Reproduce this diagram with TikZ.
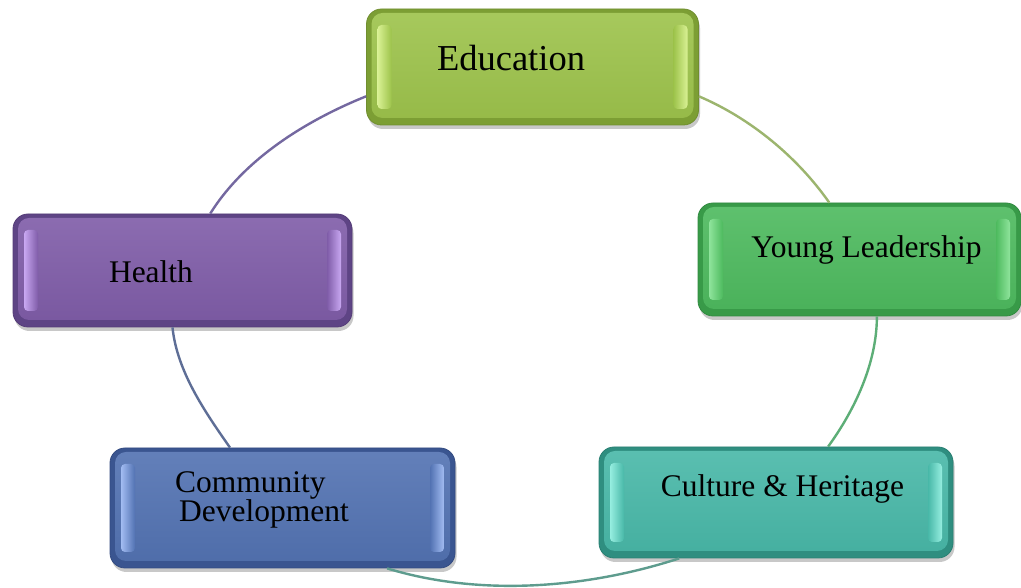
\documentclass[tikz,border=0pt]{standalone}
\usepackage{fontspec}
\setmainfont{Liberation Serif}
\usetikzlibrary{shadows,calc}
\definecolor{eduM}{HTML}{9DC34B}\definecolor{eduD}{HTML}{7C9E34}\definecolor{eduL}{HTML}{D9F194}
\definecolor{ylM}{HTML}{4DBA5E}\definecolor{ylD}{HTML}{389A48}\definecolor{ylL}{HTML}{8FE49C}
\definecolor{heM}{HTML}{7F5CA8}\definecolor{heD}{HTML}{5E4485}\definecolor{heL}{HTML}{C9A8F2}
\definecolor{coM}{HTML}{5272B2}\definecolor{coD}{HTML}{3A5590}\definecolor{coL}{HTML}{A2BCF2}
\definecolor{cuM}{HTML}{48B8A8}\definecolor{cuD}{HTML}{2F8E80}\definecolor{cuL}{HTML}{96EEE0}
\definecolor{arcA}{HTML}{7468A0}\definecolor{arcB}{HTML}{9CB56E}\definecolor{arcC}{HTML}{5DAE77}
\definecolor{arcD}{HTML}{5E9C8E}\definecolor{arcE}{HTML}{5E6E96}
\begin{document}
\begin{tikzpicture}[x=1pt,y=1pt,
  tile/.style n args={3}{
    draw=#2!90!black, line width=0.8pt, rounded corners=15pt,
    inner sep=0pt, fill=#2,
    drop shadow={shadow xshift=1.5pt, shadow yshift=-4pt, opacity=0.3, fill=black!70},
    path picture={
      \shade[rounded corners=11pt, top color=#1!90!white, bottom color=#1!95!black]
        ($(path picture bounding box.south west)+(5,7)$) rectangle ($(path picture bounding box.north east)+(-5,-4)$);
      \shade[rounded corners=4pt, left color=#3, right color=#1]
        ($(path picture bounding box.south west)+(11,16)$) rectangle ($(path picture bounding box.north west)+(25,-16)$);
      \shade[rounded corners=4pt, left color=#1, right color=#3]
        ($(path picture bounding box.south east)+(-25,16)$) rectangle ($(path picture bounding box.north east)+(-11,-16)$);
    }
  },
  lbl/.style={font=\fontsize{31.5}{27}\selectfont, inner sep=0pt, text=black},
  conn/.style={line width=2.4pt, looseness=0.85}
]
\fill[white] (0,0) rectangle (1021,588);
\useasboundingbox (0,0) rectangle (1021,588);

% boxes
\node[tile={eduM}{eduD}{eduL}, minimum width=332pt, minimum height=116pt] (edu) at (532.5,521) {};
\node[tile={ylM}{ylD}{ylL}, minimum width=323pt, minimum height=113pt] (yl) at (859.5,328.5) {};
\node[tile={heM}{heD}{heL}, minimum width=339pt, minimum height=113pt] (health) at (182.5,317.5) {};
\node[tile={coM}{coD}{coL}, minimum width=345pt, minimum height=120pt] (comm) at (282.5,80) {};
\node[tile={cuM}{cuD}{cuL}, minimum width=354pt, minimum height=111pt] (cult) at (776,85.5) {};

% labels
\node[lbl, font=\fontsize{36.5}{40}\selectfont, anchor=base] (edutxt) at (511,517.3) {Education};
\node[lbl, anchor=base] (yltxt) at (866.5,330) {Young Leadership};
\node[lbl, anchor=base] (hetxt) at (151,305) {Health};
\node[lbl, anchor=base] (cutxt) at (782.5,91) {Culture \& Heritage};
\node[lbl, anchor=base west, align=left] (cotxt) at (175,66) {Community\\\hspace*{4pt}Development};

% connectors (cycle arcs)
\draw[conn, arcA] (health.64) to[out=58, in=202] (edu.190);
\draw[conn, arcB] (edu.-10) to[out=-23, in=125] (yl.118);
\draw[conn, arcC] (yl.-73) to[out=-90, in=54] (cult.47);
\draw[conn, arcD] (cult.210) to[out=198, in=-17] (comm.-30);
\draw[conn, arcE] (comm.131) to[out=125, in=-84] (health.260);
\end{tikzpicture}
\end{document}
